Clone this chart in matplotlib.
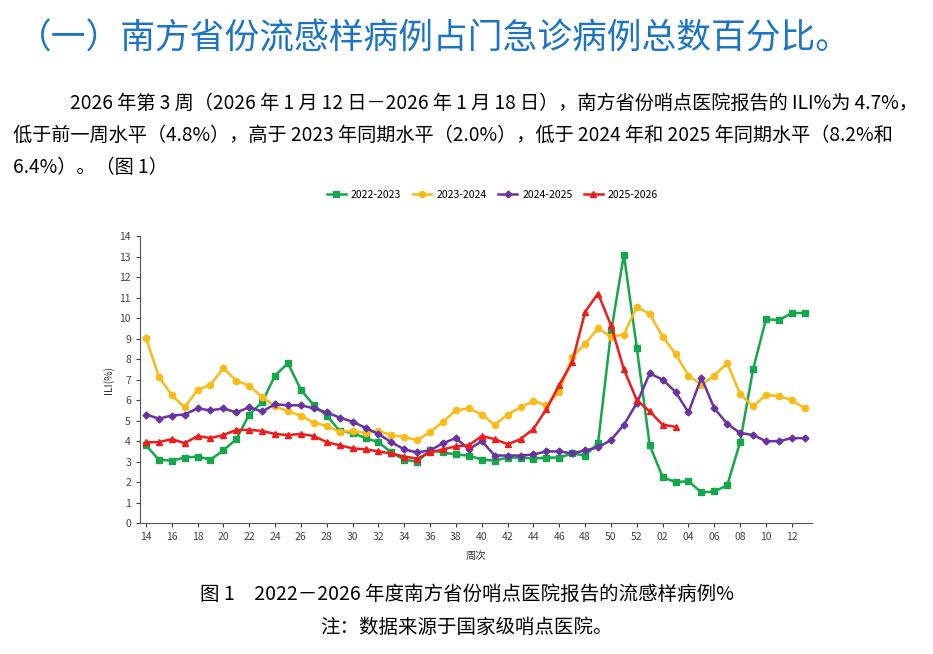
import matplotlib
matplotlib.use("Agg")
import matplotlib.pyplot as plt

plt.rcParams['font.family'] = ['Noto Sans CJK SC', 'DejaVu Sans']

# week labels: 14..52 then 01..13
weeks = [str(w) for w in range(14, 53)] + ["%02d" % w for w in range(1, 14)]

ili_2022 = [3.8, 3.1, 3.05, 3.2, 3.25, 3.1, 3.55, 4.1, 5.3, 5.9, 7.2, 7.8, 6.5, 5.75, 5.25, 4.5,
            4.4, 4.15, 3.95, 3.45, 3.1, 3.0, 3.55, 3.45, 3.35, 3.3, 3.1, 3.05, 3.2, 3.2, 3.15, 3.2,
            3.2, 3.4, 3.3, 3.9, 9.3, 13.1, 8.55, 3.8, 2.25, 2.0, 2.05, 1.5, 1.55, 1.85, 3.95, 7.5,
            9.95, 9.9, 10.25, 10.25]
ili_2023 = [9.05, 7.15, 6.25, 5.65, 6.5, 6.75, 7.55, 6.95, 6.7, 6.15, 5.7, 5.45, 5.25, 4.9, 4.75, 4.45,
            4.5, 4.4, 4.5, 4.3, 4.2, 4.05, 4.45, 4.95, 5.5, 5.6, 5.3, 4.8, 5.3, 5.65, 5.95, 5.75,
            6.4, 8.1, 8.75, 9.5, 9.1, 9.2, 10.55, 10.2, 9.1, 8.25, 7.2, 6.75, 7.2, 7.8, 6.3, 5.7,
            6.25, 6.2, 6.0, 5.6]
ili_2024 = [5.3, 5.1, 5.25, 5.3, 5.6, 5.5, 5.6, 5.4, 5.65, 5.45, 5.8, 5.75, 5.75, 5.6, 5.4, 5.15,
            4.95, 4.65, 4.35, 3.95, 3.6, 3.45, 3.55, 3.9, 4.15, 3.6, 4.0, 3.3, 3.3, 3.3, 3.35, 3.5,
            3.5, 3.4, 3.55, 3.7, 4.05, 4.8, 5.85, 7.3, 7.0, 6.4, 5.4, 7.1, 5.6, 4.85, 4.4, 4.3,
            4.0, 4.0, 4.15, 4.15]
ili_2025 = [3.95, 3.95, 4.1, 3.9, 4.25, 4.15, 4.3, 4.55, 4.55, 4.5, 4.35, 4.3, 4.35, 4.25, 3.95, 3.8,
            3.65, 3.6, 3.5, 3.4, 3.25, 3.15, 3.45, 3.6, 3.75, 3.8, 4.25, 4.1, 3.85, 4.1, 4.6, 5.55,
            6.75, 7.85, 10.3, 11.2, 9.65, 7.5, 6.0, 5.45, 4.8, 4.7]

series = [("2022-2023", ili_2022, "#16a64c", "s", 4.5),
          ("2023-2024", ili_2023, "#f9bb17", "o", 4.5),
          ("2024-2025", ili_2024, "#6a33a3", "D", 3.5),
          ("2025-2026", ili_2025, "#ee1c1c", "^", 4.5)]

fig = plt.figure(figsize=(9.33, 6.54), dpi=100)

# heading and paragraph
fig.text(0.018, 0.94, "（一）南方省份流感样病例占门急诊病例总数百分比。", fontsize=25,
         color="#1b74c5", fontweight="medium", va="center")
para = ["2026 年第 3 周（2026 年 1 月 12 日－2026 年 1 月 18 日），南方省份哨点医院报告的 ILI%为 4.7%，",
        "低于前一周水平（4.8%），高于 2023 年同期水平（2.0%），低于 2024 年和 2025 年同期水平（8.2%和",
        "6.4%）。（图 1）"]
fig.text(0.075, 1 - 103 / 654, para[0], fontsize=13.8, va="center")
fig.text(0.014, 1 - 135 / 654, para[1], fontsize=13.8, va="center")
fig.text(0.014, 1 - 167 / 654, para[2], fontsize=13.8, va="center")

ax = fig.add_axes([0.150, 0.200, 0.720, 0.439])
x = list(range(len(weeks)))
for name, vals, col, mk, ms in series:
    ax.plot(x[:len(vals)], vals, color=col, lw=1.8, marker=mk, markersize=ms, label=name)

ax.set_xlim(-0.46, len(weeks) - 0.46)
ax.set_ylim(0, 14)
ax.set_yticks(range(0, 15))
ax.set_xticks(x[::2])
ax.set_xticklabels(weeks[::2])
ax.tick_params(labelsize=7.5, colors="#444444", length=3)
for s in ["top", "right"]:
    ax.spines[s].set_visible(False)
for s in ["left", "bottom"]:
    ax.spines[s].set_color("#555555")
ax.set_ylabel("ILI(%)", fontsize=7.5, color="#333333", labelpad=4)
ax.set_xlabel("周次", fontsize=7.5, color="#333333", labelpad=6)

ax.legend(loc="center", bbox_to_anchor=(0.528, 1 - 195 / 654), bbox_transform=fig.transFigure,
          ncol=4, frameon=False, fontsize=7.5, handlelength=1.8, columnspacing=1.1,
          handletextpad=0.5)

fig.text(0.5, 1 - 594 / 654, "图 1　2022－2026 年度南方省份哨点医院报告的流感样病例%",
         fontsize=14, ha="center", va="center")
fig.text(0.5, 1 - 627 / 654, "注：数据来源于国家级哨点医院。", fontsize=14, ha="center", va="center")

fig.savefig("out.png", dpi=100)
